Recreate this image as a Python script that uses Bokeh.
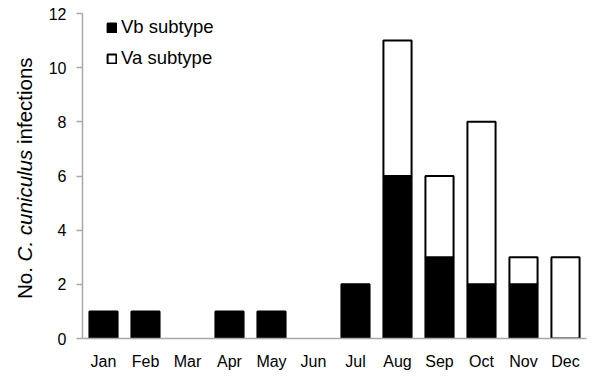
from bokeh.plotting import figure
from bokeh.layouts import row
from bokeh.models import (ColumnDataSource, FactorRange, Range1d, Legend, LegendItem,
                          FixedTicker, Div, CDSView, IndexFilter)
from bokeh.transform import stack
from bokeh.embed import file_html
from bokeh.resources import INLINE

# ---- data ----
months = ["Jan", "Feb", "Mar", "Apr", "May", "Jun",
          "Jul", "Aug", "Sep", "Oct", "Nov", "Dec"]
vb_subtype = [1, 1, 0, 1, 1, 0, 2, 6, 3, 2, 2, 0]
va_subtype = [0, 0, 0, 0, 0, 0, 0, 5, 3, 6, 1, 3]
y_ticks = [0, 2, 4, 6, 8, 10, 12]
series_names = ["Vb subtype", "Va subtype"]
y_title_html = "No. <i>C. cuniculus</i> infections"

FONT = "Liberation Sans"
TOTAL_W, TOTAL_H = 592, 382
TITLE_W = 40

source = ColumnDataSource(dict(months=months, vb=vb_subtype, va=va_subtype))

# only draw segments that are present (zero-height bars would leave a stray outline)
vb_view = CDSView(filter=IndexFilter([i for i, v in enumerate(vb_subtype) if v > 0]))
va_view = CDSView(filter=IndexFilter([i for i, v in enumerate(va_subtype) if v > 0]))

p = figure(
    width=TOTAL_W - TITLE_W, height=TOTAL_H,
    x_range=FactorRange(*months, range_padding=0),
    y_range=Range1d(0, 12),
    output_backend="svg", toolbar_location=None,
    min_border_left=82 - TITLE_W, min_border_right=6, min_border_top=13, min_border_bottom=44,
)

r_vb = p.vbar(x="months", bottom=0, top=stack("vb"), width=0.67, source=source, view=vb_view,
              fill_color="black", line_color="black", line_width=2)
r_va = p.vbar(x="months", bottom=stack("vb"), top=stack("vb", "va"), width=0.67, source=source,
              view=va_view, fill_color="white", line_color="black", line_width=2)

legend = Legend(
    items=[LegendItem(label=series_names[0], renderers=[r_vb]),
           LegendItem(label=series_names[1], renderers=[r_va])],
    location=(24, 269),
    glyph_width=11, glyph_height=11, label_standoff=4, spacing=9,
    label_height=20, padding=0, margin=0,
    border_line_alpha=0, background_fill_alpha=0,
    label_text_font=FONT, label_text_font_size="18.5px", label_text_color="black",
)
p.add_layout(legend)

# hide grid / frame outline with zero alpha (keep default colours)
p.xgrid.grid_line_alpha = 0
p.ygrid.grid_line_alpha = 0
p.outline_line_alpha = 0

AXIS_GRAY = "darkgray"
p.yaxis.ticker = FixedTicker(ticks=y_ticks)
p.yaxis.axis_line_color = AXIS_GRAY
p.yaxis.axis_line_width = 1.5
p.yaxis.major_tick_line_color = AXIS_GRAY
p.yaxis.major_tick_line_width = 1.5
p.yaxis.major_tick_out = 6
p.yaxis.major_tick_in = 0
p.yaxis.minor_tick_out = 0
p.yaxis.minor_tick_in = 0
p.yaxis.major_label_standoff = 10
p.yaxis.major_label_text_font = FONT
p.yaxis.major_label_text_font_size = "16px"
p.yaxis.major_label_text_color = "black"

p.xaxis.axis_line_color = AXIS_GRAY
p.xaxis.axis_line_width = 1.5
p.xaxis.major_tick_out = 0
p.xaxis.major_tick_in = 0
p.xaxis.minor_tick_out = 0
p.xaxis.minor_tick_in = 0
p.xaxis.major_label_standoff = 14
p.xaxis.major_label_text_font = FONT
p.xaxis.major_label_text_font_size = "16px"
p.xaxis.major_label_text_color = "black"

# y-axis title (with italic species name) as rotated HTML text beside the plot
title_div = Div(
    width=TITLE_W, height=TOTAL_H, margin=0,
    text=(
        f'<div style="position:relative;width:{TITLE_W}px;height:{TOTAL_H}px;overflow:hidden;">'
        f'<span style="position:absolute;left:15px;top:299px;transform-origin:0 0;'
        f'transform:rotate(-90deg);white-space:nowrap;font-family:\'{FONT}\';'
        f'font-size:20.5px;line-height:1;color:black;">{y_title_html}</span></div>'
    ),
)

layout = row(title_div, p, spacing=0)

open("out.html", "w").write(file_html(layout, INLINE))
